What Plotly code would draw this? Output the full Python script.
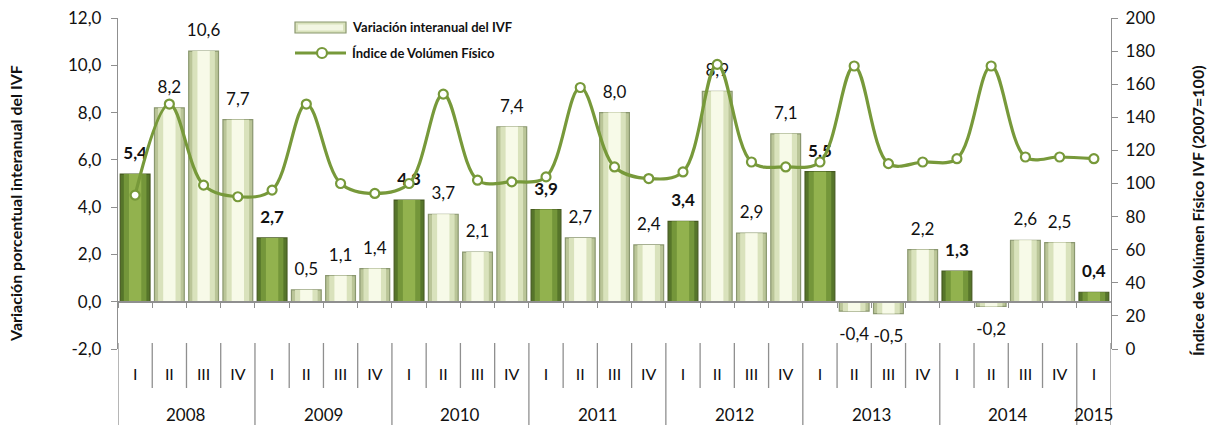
import plotly.graph_objects as go

years = ['2008'] * 4 + ['2009'] * 4 + ['2010'] * 4 + ['2011'] * 4 + ['2012'] * 4 + ['2013'] * 4 + ['2014'] * 4 + ['2015']
quarters = ['I', 'II', 'III', 'IV'] * 7 + ['I']

variacion = [5.4, 8.2, 10.6, 7.7, 2.7, 0.5, 1.1, 1.4, 4.3, 3.7, 2.1, 7.4, 3.9, 2.7,
             8.0, 2.4, 3.4, 8.9, 2.9, 7.1, 5.5, -0.4, -0.5, 2.2, 1.3, -0.2, 2.6, 2.5, 0.4]
ivf = [93, 148, 99, 92, 96, 148, 100, 94, 100, 154, 102, 101, 104, 158, 110, 103,
       107, 172, 113, 110, 113, 171, 112, 113, 115, 171, 116, 116, 115]
left_ticks = [-2, 0, 2, 4, 6, 8, 10, 12]
left_ticktext = ['-2,0', '0,0', '2,0', '4,0', '6,0', '8,0', '10,0', '12,0']

FONT = "Lato, Open Sans, sans-serif"
AX = '#8F8F8F'
LINE_COL = '#77993A'
LABEL_SIZE = 17

# figure geometry (px)
W, H = 1210, 425
L, R, T, B = 118, 99, 18, 76
PW, PH = W - L - R, H - T - B


def px_x(px):
    return (px - L) / PW


def px_y(py):
    return (H - B - py) / PH


cats = [f"{y} {q}" for y, q in zip(years, quarters)]
n = len(cats)
is_q1 = [q == 'I' for q in quarters]
labels = [("<b>%s</b>" if f else "%s") % (f"{v:.1f}".replace('.', ',')) for v, f in zip(variacion, is_q1)]

layers = [  # (width, dark colour, light colour)
    (0.87, '#56752A', '#BAC598'),
    (0.66, '#74963A', '#D9E2BC'),
    (0.36, '#92B24E', '#F7FAE8'),
]

fig = go.Figure()
for k, (wd, dc, lc) in enumerate(layers):
    fig.add_trace(go.Bar(
        x=cats, y=variacion, width=wd, showlegend=False, hoverinfo='skip' if k else None,
        name='Variación interanual del IVF',
        marker=dict(color=[dc if f else lc for f in is_q1],
                    line=dict(color=['#465A20' if f else '#8A976F' for f in is_q1],
                              width=1.2 if k == 0 else 0)),
    ))

# data labels (transparent markers set the distance of the text from the bar end)
fig.add_trace(go.Scatter(
    x=cats, y=variacion, mode='markers+text', text=labels, showlegend=False, hoverinfo='skip',
    textposition=['top center' if v >= 0 else 'bottom center' for v in variacion],
    marker=dict(color='rgba(0,0,0,0)', size=[15.6 if v >= 0 else 24 for v in variacion],
                line=dict(width=0, color='rgba(0,0,0,0)')),
    textfont=dict(family=FONT, size=LABEL_SIZE, color='#111'), cliponaxis=False,
))

fig.add_trace(go.Scatter(
    x=list(range(n)), y=ivf, xaxis='x2', yaxis='y2', showlegend=False,
    name='Índice de Volúmen Físico', mode='lines+markers',
    line=dict(color=LINE_COL, width=3.2, shape='spline', smoothing=1.0),
    marker=dict(symbol='circle', size=9, color='white', line=dict(color=LINE_COL, width=2.2)),
))

shapes = []
# quarter dividers and year dividers below the plot
for i in range(n + 1):
    bx = i - 0.5
    year_edge = i == 0 or i == n or years[i] != years[i - 1]
    shapes.append(dict(type='line', xref='x', yref='paper', x0=bx, x1=bx,
                       y0=px_y(343), y1=px_y(H + 2) if year_edge else px_y(388),
                       line=dict(color=AX, width=1.3)))

annotations = []
# year labels
for y in dict.fromkeys(years):
    idx = [i for i, yy in enumerate(years) if yy == y]
    annotations.append(dict(x=sum(idx) / len(idx), xref='x', y=px_y(415), yref='paper',
                            text=y, showarrow=False, yanchor='middle', xanchor='center',
                            font=dict(family=FONT, size=17, color='#111')))
# axis titles
annotations.append(dict(x=px_x(15), xref='paper', y=0.5 * (px_y(22) + px_y(386)), yref='paper',
                        xanchor='center', yanchor='middle',
                        text='<b>Variación porcentual interanual del IVF</b>', textangle=-90,
                        showarrow=False, font=dict(family=FONT, size=16, color='#111')))
annotations.append(dict(x=px_x(1198), xref='paper', y=0.5 * (px_y(12) + px_y(410)), yref='paper',
                        xanchor='center', yanchor='middle',
                        text='<b>Índice de Volúmen Físico IVF (2007=100)</b>', textangle=-90,
                        showarrow=False, font=dict(family=FONT, size=16, color='#111')))
# manual legend
shapes.append(dict(type='rect', xref='paper', yref='paper', x0=px_x(295), x1=px_x(346),
                   y0=px_y(33), y1=px_y(22), fillcolor='#D9E2BC', line=dict(color='#8A976F', width=1.2)))
shapes.append(dict(type='rect', xref='paper', yref='paper', x0=px_x(298), x1=px_x(343),
                   y0=px_y(30.5), y1=px_y(24.5), fillcolor='#F2F6E2', line=dict(width=0)))
shapes.append(dict(type='line', xref='paper', yref='paper', x0=px_x(295), x1=px_x(346),
                   y0=px_y(53), y1=px_y(53), line=dict(color=LINE_COL, width=3.2)))
shapes.append(dict(type='circle', xref='paper', yref='paper', x0=px_x(317), x1=px_x(327),
                   y0=px_y(58), y1=px_y(48), fillcolor='white', line=dict(color=LINE_COL, width=2.2)))
annotations.append(dict(x=px_x(350), xref='paper', y=px_y(27), yref='paper', xanchor='left',
                        yanchor='middle', showarrow=False, text='<b>Variación interanual del IVF</b>',
                        font=dict(family=FONT, size=13, color='#111')))
annotations.append(dict(x=px_x(350), xref='paper', y=px_y(53), yref='paper', xanchor='left',
                        yanchor='middle', showarrow=False, text='<b>Índice de Volúmen Físico</b>',
                        font=dict(family=FONT, size=13, color='#111')))

zero_pos = 2 / 14
fig.update_layout(
    width=W, height=H, separators=',.',
    margin=dict(l=L, r=R, t=T, b=B, autoexpand=False),
    paper_bgcolor='white', plot_bgcolor='white',
    font=dict(family=FONT, size=16, color='#111'),
    barmode='overlay', showlegend=False,
    shapes=shapes, annotations=annotations,
    xaxis=dict(type='category', automargin=False, showgrid=False, showline=False, zeroline=False,
               tickvals=cats, ticktext=quarters, ticks='', ticklabelstandoff=14,
               tickfont=dict(family=FONT, size=16, color='#111'), range=[-0.5, n - 0.5]),
    xaxis2=dict(overlaying='x', anchor='free', position=zero_pos, range=[-0.5, n - 0.5],
                automargin=False, tickvals=[i - 0.5 for i in range(n + 1)], ticks='outside',
                ticklen=5, tickwidth=1.3, tickcolor=AX, showticklabels=False, showline=True,
                linecolor=AX, linewidth=2, showgrid=False, zeroline=False),
    xaxis3=dict(overlaying='x', anchor='free', position=zero_pos, range=[-0.5, n - 0.5],
                automargin=False, tickvals=[i - 0.5 for i in range(n + 1)], ticks='inside',
                ticklen=5, tickwidth=1.3, tickcolor=AX, showticklabels=False, showline=False,
                showgrid=False, zeroline=False),
    yaxis=dict(range=[-2, 12], tickvals=left_ticks, ticktext=left_ticktext, showgrid=False,
               zeroline=False, automargin=False, showline=True, linecolor=AX, linewidth=1.3,
               ticks='outside', ticklen=6, tickwidth=1.3, tickcolor=AX, ticklabelstandoff=6,
               tickfont=dict(family=FONT, size=17, color='#111')),
    yaxis3=dict(overlaying='y', anchor='x', side='left', range=[-2, 12], dtick=2, showgrid=False,
                zeroline=False, automargin=False, showline=False, ticks='inside', ticklen=6,
                tickwidth=1.3, tickcolor=AX, showticklabels=False),
    yaxis2=dict(overlaying='y', anchor='free', position=1, side='right', range=[0, 200], dtick=20,
                showgrid=False, zeroline=False, automargin=False, showline=True, linecolor=AX,
                linewidth=1.3, ticks='outside', ticklen=6, tickwidth=1.3, tickcolor=AX,
                ticklabelstandoff=4, tickfont=dict(family=FONT, size=17, color='#111')),
    yaxis4=dict(overlaying='y', anchor='free', position=1, side='right', range=[0, 200], dtick=20,
                showgrid=False, zeroline=False, automargin=False, showline=False, ticks='inside',
                ticklen=6, tickwidth=1.3, tickcolor=AX, showticklabels=False),
)

fig.write_html("out.html", config={'displayModeBar': False},
               post_script="document.body.style.margin='0px';document.body.style.overflow='hidden';")
